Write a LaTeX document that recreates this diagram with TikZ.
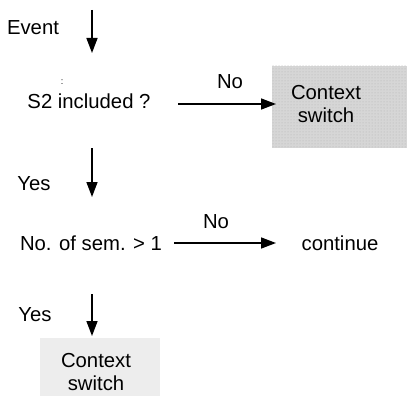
\documentclass[tikz,border=0pt]{standalone}
\usepackage{fontspec}
\setmainfont{Liberation Sans}
\usetikzlibrary{arrows.meta,patterns}
\begin{document}
\begin{tikzpicture}[x=1pt,y=-1pt,
  lbl/.style={font=\fontsize{20.3}{22.5}\selectfont, inner sep=0pt, align=center},
  flow/.style={line width=1.5pt, -{Triangle[length=15pt,width=11pt]}},
  shade1/.style={fill=black!16, draw=none},
  shade2/.style={fill=black!7, draw=none}]
\useasboundingbox (0,0) rectangle (407,396);
% boxes
\fill[shade1] (272,66) rectangle (407,148);
\fill[pattern=dots, pattern color=black!30] (272,66) rectangle (407,148);
\fill[shade2] (40,338) rectangle (160,396);
% texts
\node[lbl] (event) at (33,28) {Event};
\node[lbl] (colon) at (62,82) {\fontsize{9}{10}\selectfont :};
\node[lbl] (s2) at (89,101) {S2 included ?};
\node[lbl] (no1) at (230,82) {No};
\node[lbl] (cs1) at (326,104) {Context\\switch};
\node[lbl] (yes1) at (34,184) {Yes};
\node[lbl] (sem) at (91,243) {No. of sem. > 1};
\node[lbl] (no2) at (216,222) {No};
\node[lbl] (cont) at (340,243) {continue};
\node[lbl] (yes2) at (35,315) {Yes};
\node[lbl] (cs2) at (96,372) {Context\\switch};
% connector endpoints
\coordinate (a1s) at (92,10);
\coordinate (a1e) at (92,53);
\coordinate (a2s) at (92,148);
\coordinate (a2e) at (92,197);
\coordinate (a3s) at (92,294);
\coordinate (a3e) at (92,336);
\coordinate (h1s) at (178,104);
\coordinate (h1e) at (276,104);
\coordinate (h2s) at (174,243);
\coordinate (h2e) at (276,243);
\draw[flow] (a1s) -- (a1e);
\draw[flow] (a2s) -- (a2e);
\draw[flow] (a3s) -- (a3e);
\draw[flow] (h1s) -- (h1e);
\draw[flow] (h2s) -- (h2e);
\end{tikzpicture}
\end{document}
